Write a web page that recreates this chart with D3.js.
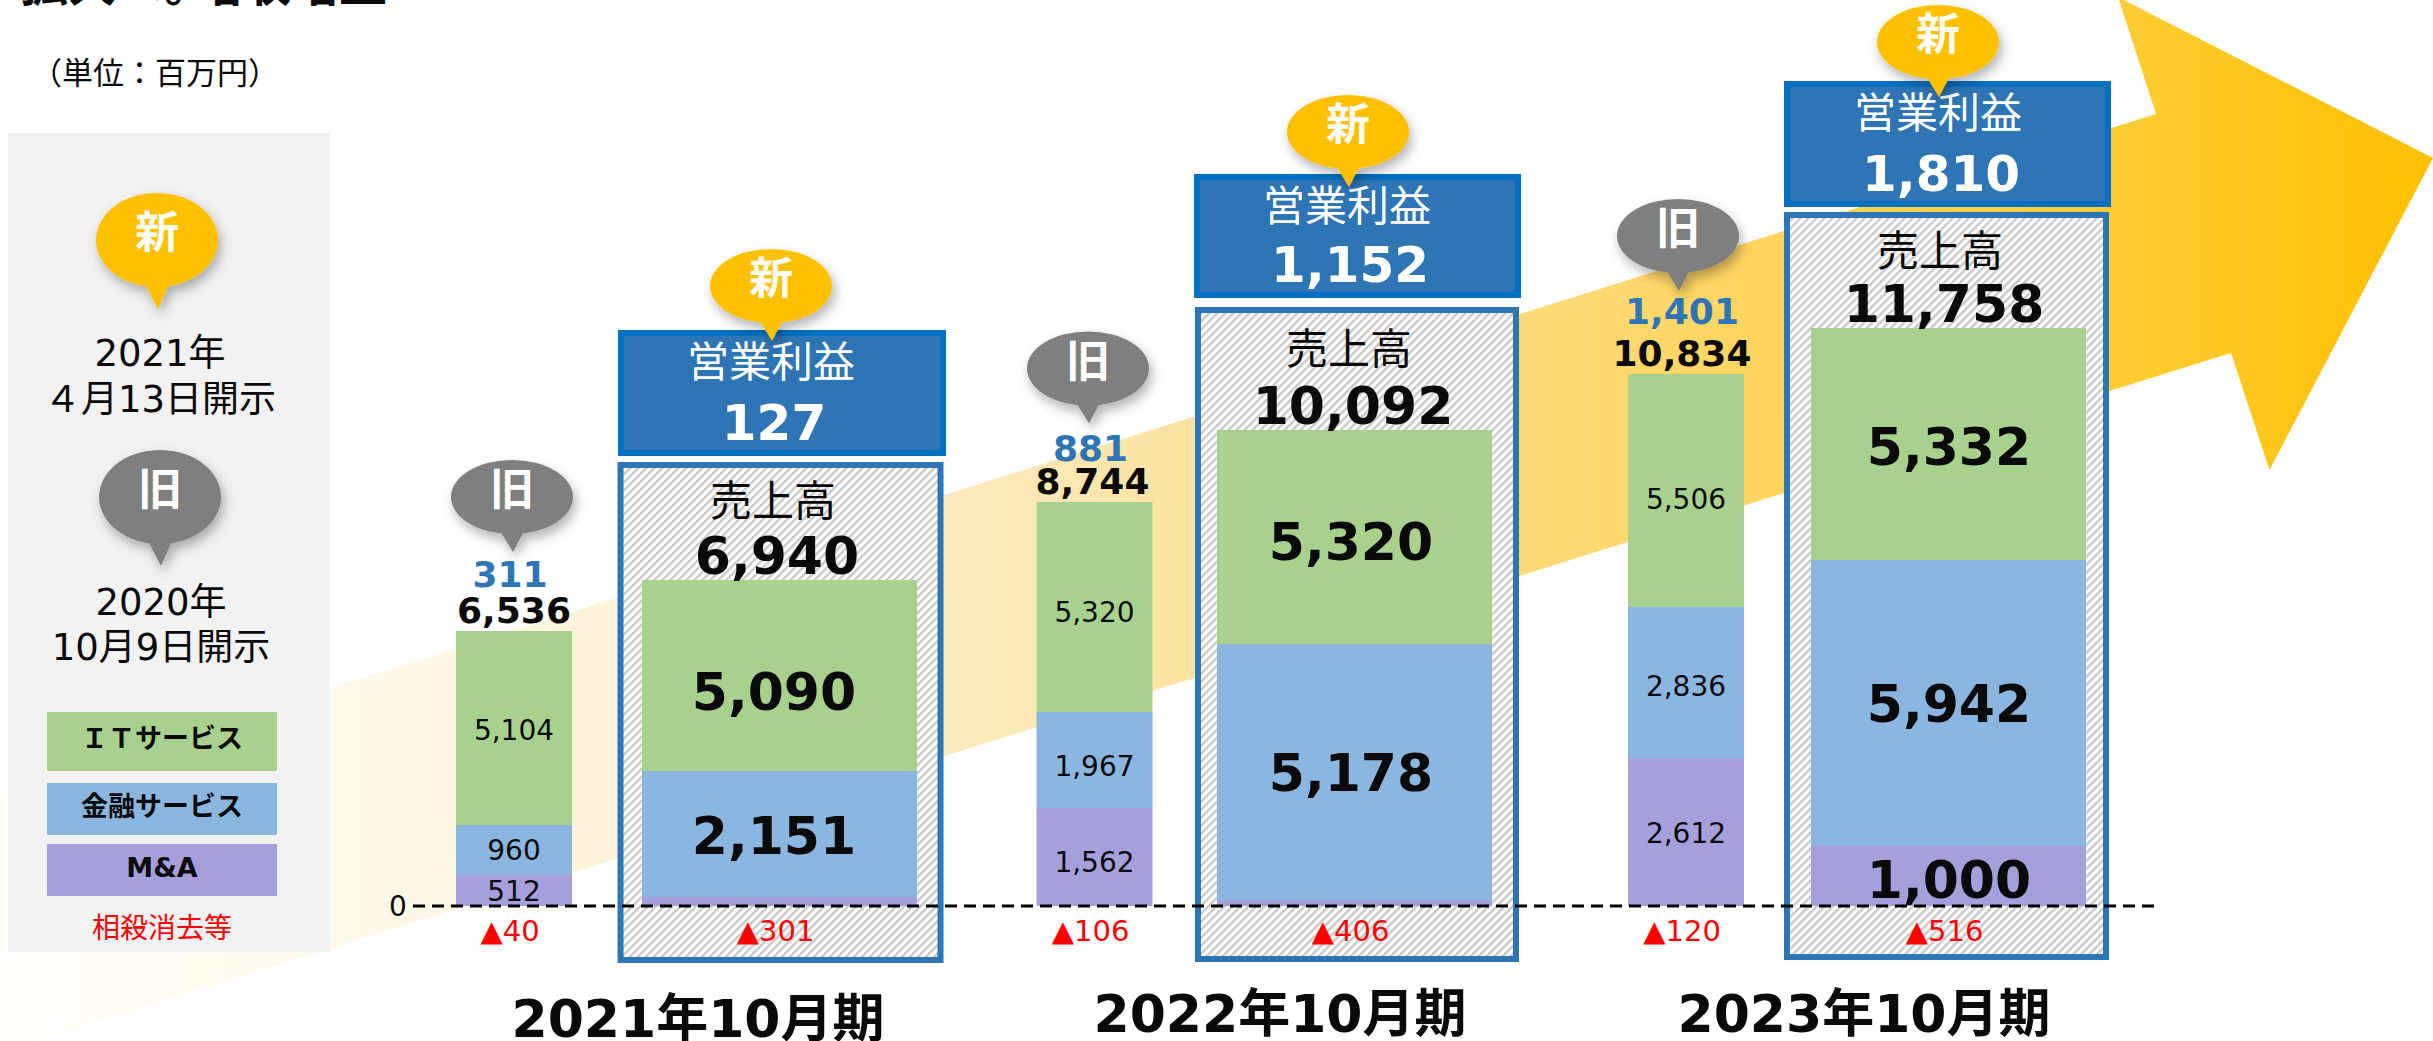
<!DOCTYPE html>
<html><head><meta charset="utf-8">
<script src="https://cdn.jsdelivr.net/npm/d3@7"></script>
<style>
html,body{margin:0;padding:0;background:#fff;overflow:hidden}
text{font-family:"DejaVu Sans","Noto Sans CJK JP",sans-serif}
</style></head><body>
<script>
// ---- data ----
const barIds = ["2021旧","2021新","2022旧","2022新","2023旧","2023新"];
const versions = ["旧","新","旧","新","旧","新"];
const itValues = [5104,5090,5320,5320,5506,5332];
const financeValues = [960,2151,1967,5178,2836,5942];
const maValues = [512,0,1562,0,2612,1000];
const eliminationValues = [40,301,106,406,120,516];
const salesValues = [6536,6940,8744,10092,10834,11758];
const profitValues = [311,127,881,1152,1401,1810];
// The printed bars are not to scale with their labels: apparent bar extents.
const itDrawn = [4850,4775,5250,5350,5825,5800];
const financeDrawn = [1250,3150,2400,6400,3800,7150];
const maDrawn = [775,225,2450,150,3675,1500];
const periods = ["2021年10月期","2022年10月期","2023年10月期"];
const segmentNames = ["M&A","金融サービス","ＩＴサービス"];
const segmentKeys = ["ma","finance","it"];
const segmentColors = ["#A5A0DC","#8AB6E0","#A9D18E"];

// ---- layout ----
const W=2433,H=1041;
const svg=d3.select("body").append("svg").attr("width",W).attr("height",H).attr("viewBox",[0,0,W,H]).style("display","block");
const defs=svg.append("defs");
const y=d3.scaleLinear().domain([0,12000]).range([906,426]);
const xC=d3.scaleOrdinal(barIds,[514,779.5,1094.5,1354.5,1686,1948.5]);
const barW=d3.scaleOrdinal(versions,[116,275]);
const labelX=d3.scaleOrdinal(barIds,[514,774,1094.5,1351,1686,1949]);
const headX=d3.scaleOrdinal(barIds,[514,774,1094,1350,1686,1941]);
const periodX=d3.scaleOrdinal(periods,[698,1280,1864]);
const periodY=d3.scaleOrdinal(periods,[1037,1032,1032]);
const box=d3.scaleOrdinal(barIds,[null,{x:620.5,w:320,top:465,bottom:960,ox:621,ow:322,oy:333,oh:120},null,{x:1198,w:318,top:310,bottom:959,ox:1197,ow:321,oy:177,oh:118},null,{x:1787,w:319,top:215,bottom:957,ox:1787,ow:321,oy:84,oh:120}]);
const pinPos=d3.scaleOrdinal(barIds,[{x:512,y:497},{x:771,y:286},{x:1088,y:368.5},{x:1348,y:132},{x:1678,y:236},{x:1938,y:42}]);
const oldProfitRise=d3.scaleOrdinal(barIds,[44,0,41,0,50,0]);
const oldSalesShift=d3.scaleOrdinal(barIds,[0,0,-2,0,-4,0]);
const headRise=d3.scaleOrdinal(barIds,[0,64,0,66,0,62]);
const ink="#0A0A0A", blue="#2E75B6";

const grad=defs.append("linearGradient").attr("id","arrowGrad").attr("gradientUnits","userSpaceOnUse")
 .attr("x1",0).attr("y1",0).attr("x2",2433).attr("y2",0);
[[0,"#FFFEFA"],[.2,"#FDF6E2"],[.42,"#FBE8B6"],[.58,"#FDDD85"],[.72,"#FFD55F"],[.86,"#FFCD38"],[1,"#FFC000"]]
 .forEach(([o,c])=>grad.append("stop").attr("offset",o).attr("stop-color",c));
const hatch=defs.append("pattern").attr("id","hatch").attr("patternUnits","userSpaceOnUse").attr("width",5.66).attr("height",5.66).attr("patternTransform","rotate(-45)");
hatch.append("rect").attr("width",5.66).attr("height",5.66).attr("fill","#fff");
hatch.append("rect").attr("width",5.66).attr("height",2.4).attr("fill","#C8C8C8");
const f=defs.append("filter").attr("id","shadow").attr("x","-30%").attr("y","-30%").attr("width","160%").attr("height","170%");
f.append("feDropShadow").attr("dx",3).attr("dy",6).attr("stdDeviation",6).attr("flood-color","#000").attr("flood-opacity",.3);

// arrow
svg.append("path").attr("fill","url(#arrowGrad)")
 .attr("d",d3.line()([[0,792],[2156,114],[2118,-3],[2433,158],[2269.5,470],[2231,353],[0,1052]])+"Z");

// title fragment clipped by the top edge
const T=(g,txt,x,yy,size,o={})=>g.append("text").attr("x",x).attr("y",yy).attr("font-size",size)
  .attr("text-anchor",o.anchor||"middle").attr("font-weight",o.weight||400).attr("fill",o.fill||ink).text(txt);
T(svg,"拡大へ。",20,1,48,{anchor:"start",weight:700});
T(svg,"増収増益",195,1,48,{anchor:"start",weight:700});
T(svg,"（単位：百万円）",155,84,31,{});

// legend panel
svg.append("rect").attr("x",8).attr("y",133).attr("width",322).attr("height",819).attr("fill","#F2F2F2");
T(svg,"2021年",160,366,37); T(svg,"４月13日開示",160,412,37);
T(svg,"2020年",161,615,37); T(svg,"10月9日開示",161,660,37);
const legY=d3.scaleOrdinal(segmentNames,[844,783,712]);
const legH=d3.scaleOrdinal(segmentNames,[52,52,59]);
const legLabelDy=d3.scaleOrdinal(segmentNames,[33,33,36]);
const lg=svg.append("g").selectAll("g").data(segmentNames).join("g");
lg.append("rect").attr("x",47).attr("width",230).attr("y",d=>legY(d)).attr("height",d=>legH(d)).attr("fill",(d,i)=>segmentColors[i]);
lg.append("text").attr("x",162).attr("y",d=>legY(d)+legLabelDy(d)).attr("text-anchor","middle").attr("font-size",27).attr("font-weight",700).attr("fill",ink).text(d=>d);
T(svg,"相殺消去等",162,938,28,{fill:"#FF0000"});

// rows
const rows=barIds.map((id,i)=>({id,i,version:versions[i],it:itDrawn[i],finance:financeDrawn[i],ma:maDrawn[i],
 labels:{it:itValues[i],finance:financeValues[i],ma:maValues[i]},elim:eliminationValues[i],sales:salesValues[i],profit:profitValues[i]}));
const isNew=d=>d.version==="新";

// framed boxes for the new forecast
const frames=svg.append("g").selectAll("g").data(rows.filter(isNew)).join("g");
frames.append("rect").attr("x",d=>box(d.id).x).attr("y",d=>box(d.id).top).attr("width",d=>box(d.id).w)
 .attr("height",d=>box(d.id).bottom-box(d.id).top).attr("fill","url(#hatch)").attr("stroke",blue).attr("stroke-width",6);
frames.append("rect").attr("x",d=>box(d.id).ox).attr("y",d=>box(d.id).oy).attr("width",d=>box(d.id).ow)
 .attr("height",d=>box(d.id).oh).attr("fill",blue).attr("stroke","#0070C0").attr("stroke-width",6);

// stacked bars
const series=d3.stack().keys(segmentKeys)(rows);
const groups=svg.append("g").selectAll("g").data(series).join("g").attr("fill",(d,i)=>segmentColors[i]);
groups.selectAll("rect").data(d=>d).join("rect")
 .attr("x",d=>xC(d.data.id)-barW(d.data.version)/2).attr("width",d=>barW(d.data.version))
 .attr("y",d=>y(d[1])).attr("height",d=>y(d[0])-y(d[1]));

// zero line
svg.append("line").attr("x1",413).attr("x2",2160).attr("y1",y(0)).attr("y2",y(0)).attr("stroke","#000").attr("stroke-width",3).attr("stroke-dasharray","12 7");
T(svg,"0",398,y(0)+10,28);

// segment labels
const fmt=d3.format(",");
const nudge={"2021旧|it":2,"2021新|it":15,"2021新|finance":1,"2022旧|it":5,"2022旧|finance":6,"2022旧|ma":5,
 "2022新|it":4,"2023旧|it":8,"2023旧|finance":3,"2023新|it":2,"2023新|ma":3};
groups.each(function(s){
 d3.select(this).selectAll("text").data(s.filter(d=>d.data.labels[s.key]>0)).join("text")
  .attr("text-anchor","middle").attr("fill",ink)
  .attr("x",d=>labelX(d.data.id))
  .attr("y",d=>(y(d[0])+y(d[1]))/2+(nudge[d.data.id+"|"+s.key]||0))
  .attr("dy",d=>isNew(d.data)?19:10)
  .attr("font-size",d=>isNew(d.data)?52:28)
  .attr("font-weight",d=>isNew(d.data)?700:400)
  .text(d=>fmt(d.data.labels[s.key]));
});
const barTop=d=>y(d.it+d.finance+d.ma);

// totals
rows.forEach(d=>{
 if(isNew(d)){
  const b=box(d.id);
  T(svg,"売上高",headX(d.id)-1,barTop(d)-headRise(d.id),42);
  T(svg,fmt(d.sales),headX(d.id)+3,barTop(d)-6,52,{weight:700});
  T(svg,"営業利益",headX(d.id)-3,b.oy+44,42,{fill:"#fff"});
  T(svg,fmt(d.profit),headX(d.id),b.oy+b.oh-13,50,{fill:"#fff",weight:700});
 } else {
  T(svg,fmt(d.sales),xC(d.id)+oldSalesShift(d.id),barTop(d)-8,36,{weight:700});
  T(svg,fmt(d.profit),xC(d.id)-4,barTop(d)-oldProfitRise(d.id),36,{fill:blue,weight:700});
 }
 T(svg,"▲"+fmt(d.elim),xC(d.id)-4,941,29,{fill:"#FF0000"});
});

// period labels
svg.append("g").selectAll("text").data(periods).join("text").attr("text-anchor","middle").attr("font-size",52).attr("font-weight",700).attr("fill",ink)
 .attr("x",d=>periodX(d)).attr("y",d=>periodY(d)).text(d=>d);

// pins
function pin(x,cy,rx,ry,tail,label,color){
 const g=svg.append("g").attr("filter","url(#shadow)");
 g.append("path").attr("fill",color).attr("d",d3.line()([[x-12,cy+ry-3],[x+1,cy+ry+tail],[x+12,cy+ry-3]])+"Z");
 g.append("ellipse").attr("cx",x).attr("cy",cy).attr("rx",rx).attr("ry",ry).attr("fill",color);
 svg.append("text").attr("x",x).attr("y",cy+8).attr("text-anchor","middle").attr("font-size",44).attr("font-weight",700).attr("fill","#fff").text(label);
}
const pinColor={"新":"#FFC000","旧":"#7F7F7F"};
pin(157,240,61,47,22,"新",pinColor["新"]);
pin(160,497,61,47,22,"旧",pinColor["旧"]);
rows.forEach(d=>{const p=pinPos(d.id);pin(p.x,p.y,61,37,18,d.version,pinColor[d.version]);});
</script></body></html>
